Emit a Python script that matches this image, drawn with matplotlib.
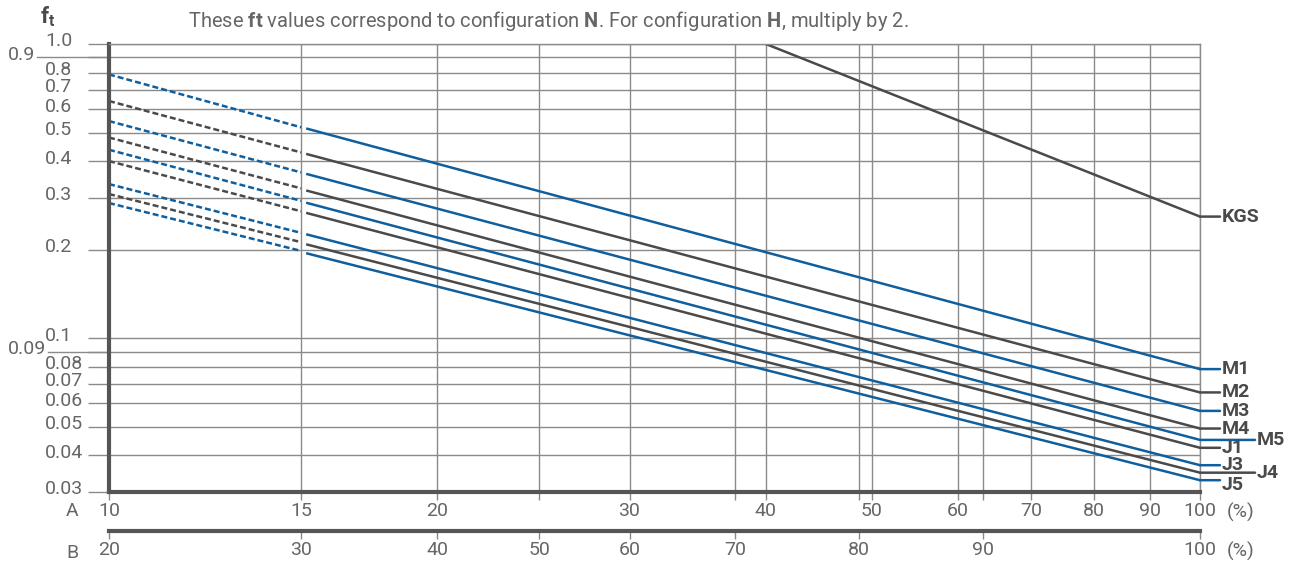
import matplotlib.pyplot as plt
from matplotlib.ticker import FixedLocator, NullLocator

plt.rcParams['font.family'] = ['Roboto', 'DejaVu Sans']
plt.rcParams['mathtext.fontset'] = 'custom'
plt.rcParams['mathtext.rm'] = 'Roboto'
plt.rcParams['mathtext.bf'] = 'Roboto:bold'

BLUE = '#0f5f9e'
GRAY = '#4a4a4a'
GRID = '#8a8a8a'
TEXT = '#666666'
AXIS = '#555555'

# scale A (% values), log axis
a_ticks = [10, 15, 20, 30, 40, 50, 60, 70, 80, 90, 100]
a_labels = ['10', '15', '20', '30', '40', '50', '60', '70', '80', '90', '100']
# scale B and where its values fall on scale A
b_labels = ['20', '30', '40', '50', '60', '70', '80', '90', '100']
b_on_a = [10, 15, 20, 24.8, 30, 37.5, 48.7, 63.2, 100]

y_ticks = [0.03, 0.04, 0.05, 0.06, 0.07, 0.08, 0.09, 0.1,
           0.2, 0.3, 0.4, 0.5, 0.6, 0.7, 0.8, 0.9, 1.0]
y_labels = ['0.03', '0.04', '0.05', '0.06', '0.07', '0.08', '0.09', '0.1',
            '0.2', '0.3', '0.4', '0.5', '0.6', '0.7', '0.8', '0.9', '1.0']

names = ['M1', 'M2', 'M3', 'M4', 'M5', 'J1', 'J3', 'J4', 'J5']
x_dash = [10, 15.0]
x_solid = [15.2, 100]
f_dash = [[0.788, 0.521], [0.640, 0.428], [0.547, 0.366], [0.481, 0.323],
          [0.437, 0.293], [0.400, 0.270], [0.334, 0.228], [0.309, 0.212],
          [0.288, 0.198]]
f_solid = [[0.515, 0.0785], [0.422, 0.0654], [0.361, 0.0566], [0.317, 0.0493],
           [0.288, 0.0451], [0.266, 0.0424], [0.225, 0.0370], [0.208, 0.0349],
           [0.194, 0.0329]]

kgs_x = [40, 100]
kgs_f = [1.0, 0.259]

colors = [BLUE, GRAY, BLUE, GRAY, BLUE, GRAY, BLUE, GRAY, BLUE]
leads = [20, 20, 20, 20, 55, 20, 20, 55, 20]   # leader length, px
text_dy = [0, 0, 0, 0, 0, 0, 0, 0, -5]

FS = 14

fig = plt.figure(figsize=(12.9, 5.64), dpi=100)
W, H = 1290, 564
ax = fig.add_axes([109 / W, (H - 492) / H, 1091 / W, 448 / H])
ax.set_xscale('log')
ax.set_yscale('log')
ax.set_xlim(10, 100)
ax.set_ylim(0.03, 1.0)

ax.set_xticks(a_ticks)
ax.set_xticklabels(a_labels)
ax.xaxis.set_minor_locator(FixedLocator(b_on_a))
ax.xaxis.set_minor_formatter(plt.NullFormatter())
ax.set_yticks(y_ticks)
ax.yaxis.set_minor_locator(NullLocator())
ax.tick_params(axis='y', labelleft=False, length=15, width=1, color=GRID)
ax.tick_params(axis='x', which='both', length=6, width=1, color=GRID,
               labelsize=FS, labelcolor=TEXT, pad=1.5)
ax.grid(True, which='both', color=GRID, lw=1)
ax.set_axisbelow(True)

for s in ['left', 'bottom']:
    ax.spines[s].set_color(AXIS)
    ax.spines[s].set_linewidth(3)
for s in ['top', 'right']:
    ax.spines[s].set_color(GRID)
    ax.spines[s].set_linewidth(1)

# y labels sit left aligned, 0.9 and 0.09 pushed further out
for v, lbl in zip(y_ticks, y_labels):
    off = -101 if lbl in ('0.9', '0.09') else -64
    ax.annotate(lbl, xy=(0, v), xycoords=('axes fraction', 'data'),
                xytext=(off, 2.5), textcoords='offset pixels',
                ha='left', va='center', fontsize=FS, color=TEXT,
                annotation_clip=False)
for v, start in [(0.9, -72), (0.09, -61)]:
    ax.plot([start / 1091, 0], [v, v], transform=ax.get_yaxis_transform(),
            color=GRID, lw=1, clip_on=False)

# curves
for i, name in enumerate(names):
    c = colors[i]
    ax.plot(x_dash, f_dash[i], color=c, lw=1.8, ls=(0, (2.4, 1.2)))
    ax.plot(x_solid, f_solid[i], color=c, lw=1.8)
    ax.annotate('', xy=(100, f_solid[i][-1]), xytext=(leads[i], 0),
                textcoords='offset pixels', annotation_clip=False,
                arrowprops=dict(arrowstyle='-', color=c, lw=1.8,
                                shrinkA=0, shrinkB=0))
    ax.annotate(name, xy=(100, f_solid[i][-1]), xytext=(leads[i] + 2, text_dy[i]),
                textcoords='offset pixels', ha='left', va='center',
                fontsize=FS, fontweight='bold', color=GRAY,
                annotation_clip=False)

ax.plot(kgs_x, kgs_f, color=GRAY, lw=1.8)
ax.annotate('', xy=(100, kgs_f[-1]), xytext=(20, 0), textcoords='offset pixels',
            annotation_clip=False,
            arrowprops=dict(arrowstyle='-', color=GRAY, lw=1.8, shrinkA=0, shrinkB=0))
ax.annotate('KGS', xy=(100, kgs_f[-1]), xytext=(22, 0), textcoords='offset pixels',
            ha='left', va='center', fontsize=FS, fontweight='bold', color=GRAY,
            annotation_clip=False)

ax.annotate('(%)', xy=(100, 0), xycoords=('data', 'axes fraction'),
            xytext=(19, -7.5), textcoords='offset points', ha='left', va='top',
            fontsize=FS, color=TEXT, annotation_clip=False)

# second scale B
axb = fig.add_axes([109 / W, (H - 531) / H, 1091 / W, 0.5 / H])
axb.set_xscale('log')
axb.set_xlim(10, 100)
axb.set_xticks(b_on_a)
axb.set_xticklabels(b_labels)
axb.xaxis.set_minor_locator(NullLocator())
axb.set_yticks([])
axb.patch.set_visible(False)
for s in ['left', 'right', 'top']:
    axb.spines[s].set_visible(False)
axb.spines['bottom'].set_color(AXIS)
axb.spines['bottom'].set_linewidth(3)
axb.tick_params(axis='x', length=6, width=1, color=GRID, labelsize=FS,
                labelcolor=TEXT, pad=1.5)
axb.annotate('(%)', xy=(100, 0), xycoords=('data', 'axes fraction'),
             xytext=(19, -7.5), textcoords='offset points', ha='left', va='top',
             fontsize=FS, color=TEXT, annotation_clip=False)

fig.text(72 / W, 1 - 511 / H, 'A', ha='center', va='center', fontsize=FS, color=TEXT)
fig.text(72 / W, 1 - 553 / H, 'B', ha='center', va='center', fontsize=FS, color=TEXT)

fig.text(188 / W, 1 - 21 / H,
         r'These $\mathbf{ft}$ values correspond to configuration $\mathbf{N}$. '
         r'For configuration $\mathbf{H}$, multiply by 2.',
         ha='left', va='center', fontsize=14.5, color=TEXT)
fig.text(40 / W, 1 - 17 / H, r'$\mathbf{f}_\mathbf{t}$', ha='left', va='center',
         fontsize=16, color=GRAY)

fig.savefig('out.png', dpi=100)
